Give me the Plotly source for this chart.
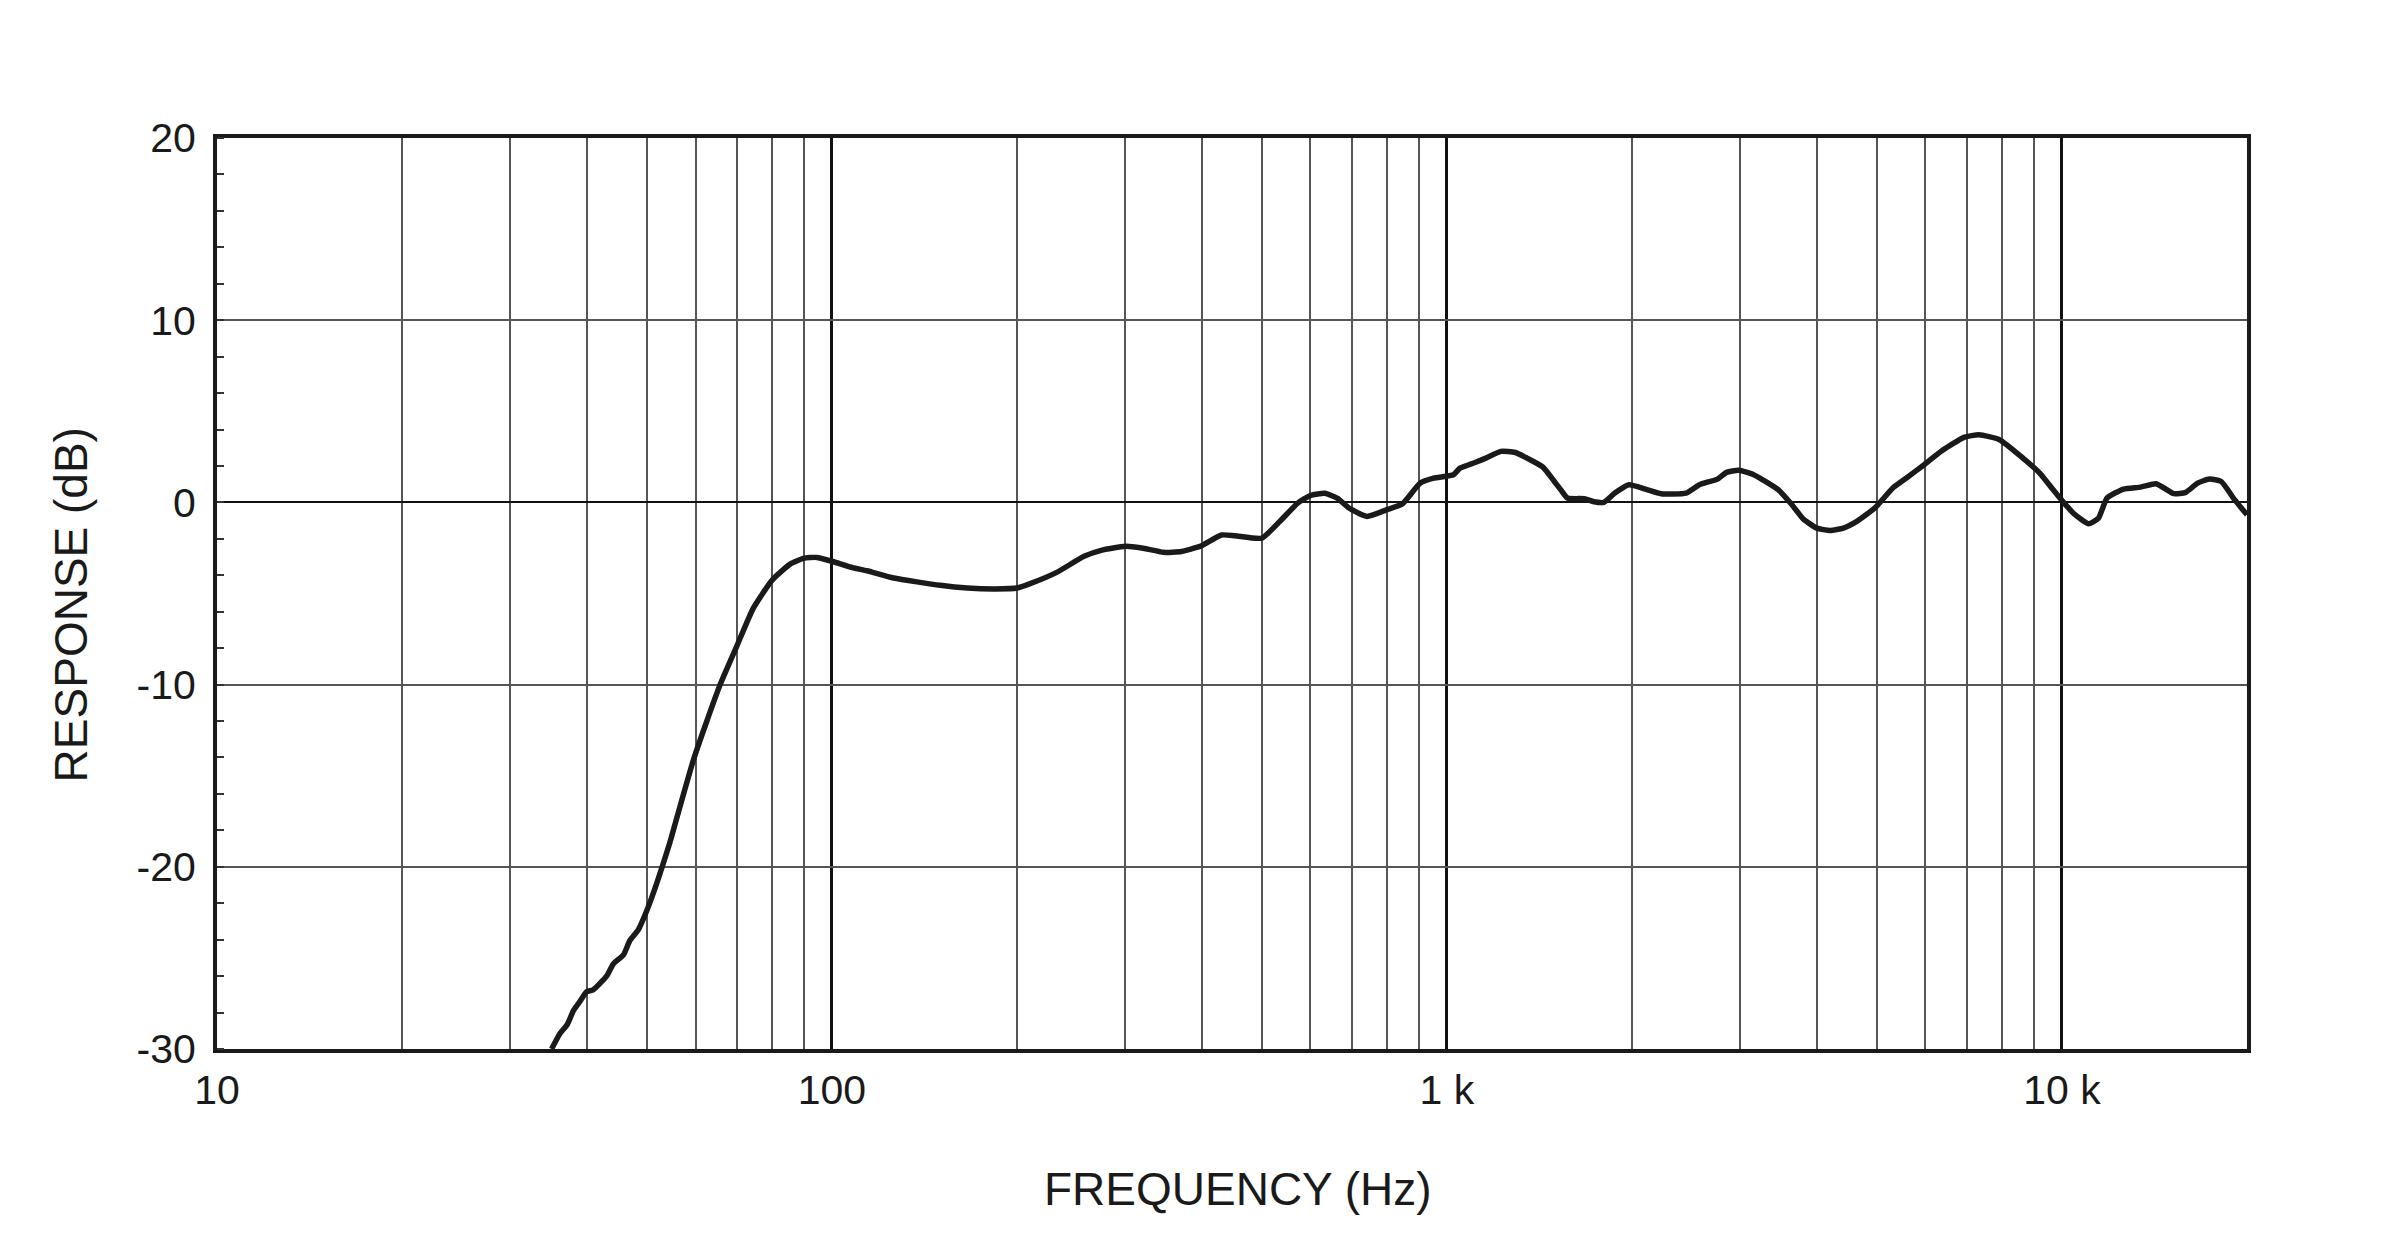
import plotly.graph_objects as go

freq_hz = [35, 36.1, 37.1, 38, 38.9, 39.9, 40.9, 43, 44.1, 45.8, 46.9, 48.4, 50, 51.9, 54.5, 56.6,
           59.5, 62.6, 65.8, 70, 74.5, 80, 85.4, 89.9, 94.4, 100, 108, 114, 126, 150, 166, 184,
           200, 210, 232, 257, 274, 300, 319, 346, 370, 389, 400, 430, 452, 500, 535, 572, 600,
           633, 664, 693, 741, 799, 847, 905, 951, 1025, 1050, 1111, 1157, 1224, 1292, 1350,
           1433, 1495, 1532, 1570, 1673, 1728, 1800, 1875, 1977, 2103, 2230, 2448, 2574, 2753,
           2849, 2983, 3154, 3262, 3460, 3640, 3797, 3994, 4198, 4413, 4640, 4963, 5310, 5581,
           5972, 6389, 6945, 7330, 7916, 8644, 9204, 9680, 10000, 10430, 11040, 11470, 11840,
           12600, 13430, 14210, 14660, 15210, 15900, 16620, 17370, 18160, 19090, 20000]
response_db = [-30.0, -29.16, -28.67, -27.88, -27.4, -26.86, -26.75, -26.0, -25.33, -24.84, -24.06,
               -23.47, -22.4, -20.9, -18.67, -16.7, -14.16, -12.0, -10.0, -7.9, -5.8, -4.25, -3.4,
               -3.07, -3.02, -3.23, -3.58, -3.75, -4.15, -4.55, -4.7, -4.75, -4.7, -4.46, -3.84,
               -2.96, -2.63, -2.41, -2.5, -2.74, -2.7, -2.5, -2.36, -1.79, -1.83, -1.96, -1.04,
               -0.04, 0.38, 0.5, 0.22, -0.31, -0.77, -0.4, -0.07, 1.06, 1.33, 1.52, 1.88, 2.19,
               2.43, 2.8, 2.74, 2.43, 1.94, 1.15, 0.69, 0.24, 0.2, 0.05, 0.0, 0.51, 0.97, 0.73,
               0.48, 0.51, 0.97, 1.28, 1.65, 1.76, 1.52, 1.24, 0.69, -0.13, -0.91, -1.41, -1.54,
               -1.41, -1.04, -0.31, 0.79, 1.33, 2.07, 2.85, 3.58, 3.71, 3.44, 2.43, 1.61, 0.69,
               0.11, -0.58, -1.17, -0.86, 0.24, 0.73, 0.84, 1.02, 0.79, 0.48, 0.55, 1.06, 1.28,
               1.15, 0.15, -0.68]

x_major_vals = [10, 100, 1000, 10000]
x_major_text = ["10", "100", "1 k", "10 k"]
x_minor_vals = [20, 30, 40, 50, 60, 70, 80, 90,
                200, 300, 400, 500, 600, 700, 800, 900,
                2000, 3000, 4000, 5000, 6000, 7000, 8000, 9000]
y_major_vals = [-30, -20, -10, 0, 10, 20]
y_major_text = ["-30", "-20", "-10", "0", "10", "20"]

FONT = "Liberation Sans, Arial, sans-serif"
INK = "#1a1a1a"

fig = go.Figure()
fig.add_trace(go.Scatter(
    x=freq_hz, y=response_db, mode="lines",
    line=dict(color=INK, width=5.5, shape="spline", smoothing=0.5),
    showlegend=False, hoverinfo="skip", cliponaxis=True,
))

fig.update_layout(
    width=2394, height=1254,
    margin=dict(l=217, r=147, t=138, b=205, pad=0),
    paper_bgcolor="white", plot_bgcolor="white",
    font=dict(family=FONT, color=INK, size=40),
    showlegend=False,
    xaxis=dict(
        type="log", range=[1, 4.30103],
        tickmode="array", tickvals=x_major_vals, ticktext=x_major_text,
        ticks="", showgrid=True, gridcolor="#111111", gridwidth=2.6,
        minor=dict(tickmode="array", tickvals=x_minor_vals, showgrid=True,
                   gridcolor="#555555", gridwidth=1.6, ticks=""),
        showline=True, linecolor=INK, linewidth=4, mirror=True,
        zeroline=False, tickfont=dict(size=41, family=FONT, color=INK),
        ticklabelstandoff=2,
    ),
    yaxis=dict(
        range=[-30, 20],
        tickmode="array", tickvals=y_major_vals, ticktext=y_major_text,
        ticks="", showgrid=True, gridcolor="#555555", gridwidth=1.6,
        zeroline=True, zerolinecolor="#111111", zerolinewidth=2.4,
        minor=dict(tickmode="linear", tick0=-30, dtick=2, ticks="inside",
                   ticklen=7, tickwidth=1.5, tickcolor="#333333", showgrid=False),
        showline=True, linecolor=INK, linewidth=4, mirror=True,
        tickfont=dict(size=41, family=FONT, color=INK),
        ticklabelstandoff=9,
    ),
    annotations=[
        dict(text="FREQUENCY (Hz)", xref="paper", yref="paper",
             x=0.503, y=-0.1536, xanchor="center", yanchor="middle",
             showarrow=False, font=dict(size=46, family=FONT, color=INK)),
        dict(text="RESPONSE (dB)", xref="paper", yref="paper",
             x=-0.0719, y=0.487, xanchor="center", yanchor="middle", textangle=-90,
             showarrow=False, font=dict(size=46, family=FONT, color=INK)),
    ],
)

fig.write_html("out.html")
